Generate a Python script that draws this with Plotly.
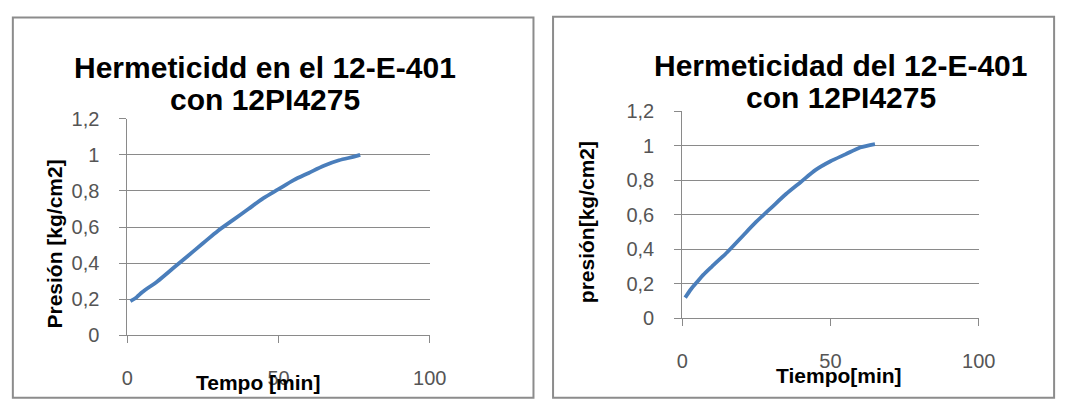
import plotly.graph_objects as go

W, H = 1076, 404

# Prueba 1: presión vs tiempo
t1 = [1, 3, 5, 10, 15, 20, 25, 30, 35, 40, 45, 50, 55, 60, 65, 70, 75, 77]
p1 = [0.19, 0.21, 0.24, 0.30, 0.37, 0.44, 0.51, 0.58, 0.64, 0.70, 0.76, 0.81, 0.86, 0.90, 0.94, 0.97, 0.99, 1.00]

# Prueba 2: presión vs tiempo
t2 = [1, 3, 5, 7, 10, 15, 20, 25, 30, 35, 40, 45, 50, 55, 60, 65]
p2 = [0.12, 0.17, 0.21, 0.25, 0.30, 0.38, 0.47, 0.56, 0.64, 0.72, 0.79, 0.86, 0.91, 0.95, 0.99, 1.01]

x_ticks = [0, 50, 100]
y_ticks = [0, 0.2, 0.4, 0.6, 0.8, 1.0, 1.2]

LINE = "#4a7ebb"
GRID = "#8a8a8a"
TICKC = "#555555"
FONT = "Liberation Sans, Arial, sans-serif"


def fx(px):
    return px / W


def fy(py):
    return 1 - py / H


fig = go.Figure()
fig.add_trace(go.Scatter(x=t1, y=p1, mode="lines", xaxis="x", yaxis="y",
                         line=dict(color=LINE, width=3.8, shape="spline", smoothing=0.8),
                         showlegend=False, hoverinfo="x+y"))
fig.add_trace(go.Scatter(x=t2, y=p2, mode="lines", xaxis="x2", yaxis="y2",
                         line=dict(color=LINE, width=3.8, shape="spline", smoothing=0.8),
                         showlegend=False, hoverinfo="x+y"))

xcommon = dict(range=[0, 100], tickvals=x_ticks, showgrid=False, zeroline=False,
               showline=True, linecolor=GRID, linewidth=1, ticks="outside",
               ticklen=7, tickcolor=GRID, tickwidth=1, ticklabelstandoff=18,
               tickfont=dict(family=FONT, size=20, color=TICKC), fixedrange=True)
ycommon = dict(range=[0, 1.2], tickvals=y_ticks, showgrid=True, gridcolor=GRID,
               gridwidth=1, zeroline=False, showline=True, linecolor=GRID,
               linewidth=1, ticks="outside", ticklen=7, tickcolor=GRID,
               tickwidth=1, ticklabelstandoff=16,
               tickfont=dict(family=FONT, size=20, color=TICKC), fixedrange=True)

fig.update_layout(
    width=W, height=H,
    margin=dict(l=0, r=0, t=0, b=0),
    paper_bgcolor="white", plot_bgcolor="white",
    separators=", ",
    xaxis=dict(domain=[fx(124), fx(433)], anchor="y", **xcommon),
    yaxis=dict(domain=[fy(343), fy(114)], anchor="x", **ycommon),
    xaxis2=dict(domain=[fx(691), fx(994)], anchor="y2", **xcommon),
    yaxis2=dict(domain=[fy(325), fy(106)], anchor="x2", **ycommon),
)

# Chart frames
for x0, x1, y0 in [(7, 539, 7), (559, 1071, 6)]:
    fig.add_shape(type="rect", xref="paper", yref="paper",
                  x0=fx(x0), x1=fx(x1), y0=fy(y0), y1=fy(H + 5),
                  line=dict(color="#8c8c8c", width=2), layer="below")

TITLE_FONT = dict(family=FONT, size=30, color="black")
AX_FONT = dict(family=FONT, size=21, color="black")


def label(text, x, y, font, angle=0):
    fig.add_annotation(text=text, xref="paper", yref="paper", x=fx(x), y=fy(y),
                       xanchor="center", yanchor="middle", showarrow=False,
                       font=font, textangle=angle)


label("<b>Hermeticidd en el 12-E-401</b>", 265, 60, TITLE_FONT)
label("<b>con 12PI4275</b>", 265, 94, TITLE_FONT)
label("<b>Presión [kg/cm2]</b>", 50, 246, AX_FONT, -90)
label("<b>Tempo [min]</b>", 258, 393, AX_FONT)

label("<b>Hermeticidad del 12-E-401</b>", 853, 58, TITLE_FONT)
label("<b>con 12PI4275</b>", 853, 91, TITLE_FONT)
label("<b>presión[kg/cm2]</b>", 594, 223, AX_FONT, -90)
label("<b>Tiempo[min]</b>", 851, 385, AX_FONT)

fig.write_html("out.html")
